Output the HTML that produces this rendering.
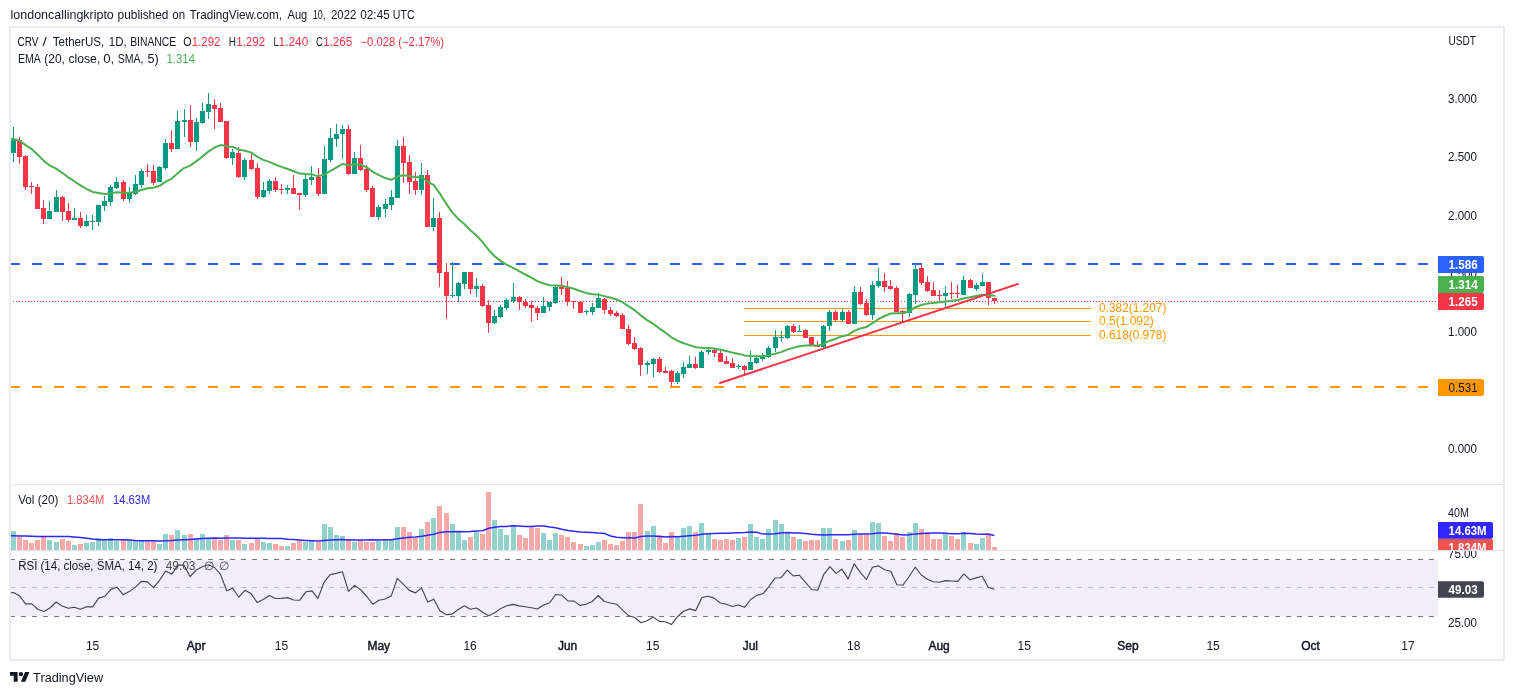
<!DOCTYPE html><html><head><meta charset="utf-8"><title>CRV / TetherUS chart</title><style>
html,body{margin:0;padding:0;background:#fff;}
body{width:1514px;height:695px;overflow:hidden;position:relative;font-family:"Liberation Sans", Arial, sans-serif;}
svg{position:absolute;left:0;top:0;will-change:transform;}
text{font-family:"Liberation Sans", Arial, sans-serif;}
</style></head><body>
<svg width="1514" height="695" viewBox="0 0 1514 695">
<defs><clipPath id="cmain"><rect x="11" y="28" width="1427" height="456"/></clipPath>
<clipPath id="cvol"><rect x="11" y="485" width="1491" height="65"/></clipPath>
<clipPath id="crsi"><rect x="11" y="551" width="1491" height="79"/></clipPath></defs>
<text x="10.6" y="18.9" font-size="12" fill="#131722" textLength="103.2" lengthAdjust="spacingAndGlyphs">londoncallingkripto</text>
<text x="117.6" y="18.9" font-size="12" fill="#131722" textLength="50.8" lengthAdjust="spacingAndGlyphs">published</text>
<text x="172.3" y="18.9" font-size="12" fill="#131722" textLength="12.8" lengthAdjust="spacingAndGlyphs">on</text>
<text x="189.6" y="18.9" font-size="12" fill="#131722" textLength="92.4" lengthAdjust="spacingAndGlyphs">TradingView.com,</text>
<text x="287.5" y="18.9" font-size="12" fill="#131722" textLength="19.7" lengthAdjust="spacingAndGlyphs">Aug</text>
<text x="312.8" y="18.9" font-size="12" fill="#131722" textLength="12.6" lengthAdjust="spacingAndGlyphs">10,</text>
<text x="331" y="18.9" font-size="12" fill="#131722" textLength="25.4" lengthAdjust="spacingAndGlyphs">2022</text>
<text x="360.3" y="18.9" font-size="12" fill="#131722" textLength="29.4" lengthAdjust="spacingAndGlyphs">02:45</text>
<text x="392.8" y="18.9" font-size="12" fill="#131722" textLength="21.8" lengthAdjust="spacingAndGlyphs">UTC</text>
<rect x="10" y="27" width="1494" height="633" fill="none" stroke="#e9ebf0" stroke-width="2"/>
<rect x="11" y="484" width="1492" height="1" fill="#e0e3eb"/>
<rect x="11" y="550" width="1492" height="1" fill="#e0e3eb"/>
<rect x="11" y="560" width="1427" height="56" fill="#f2eef9"/>
<g clip-path="url(#crsi)" shape-rendering="crispEdges">
<line x1="10" y1="559.5" x2="1438" y2="559.5" stroke="#787b86" stroke-width="1" stroke-dasharray="5,6"/>
<line x1="10" y1="587.5" x2="1438" y2="587.5" stroke="#b8bac2" stroke-width="1" stroke-dasharray="5,6"/>
<line x1="10" y1="616.5" x2="1438" y2="616.5" stroke="#787b86" stroke-width="1" stroke-dasharray="5,6"/>
</g>
<g clip-path="url(#cmain)">
<line x1="9.8" y1="263.5" x2="1438" y2="263.5" stroke="#2962ff" stroke-width="2" stroke-dasharray="10,12" shape-rendering="crispEdges"/>
<line x1="9.8" y1="386.8" x2="1438" y2="386.8" stroke="#ff9800" stroke-width="2" stroke-dasharray="10,12" shape-rendering="crispEdges"/>
<line x1="10" y1="301.5" x2="1438" y2="301.5" stroke="#f23645" stroke-width="1" stroke-dasharray="1,2" shape-rendering="crispEdges"/>
<line x1="744" y1="308.5" x2="1091" y2="308.5" stroke="#ff9800" stroke-width="1" shape-rendering="crispEdges"/>
<line x1="744" y1="321.5" x2="1091" y2="321.5" stroke="#ff9800" stroke-width="1" shape-rendering="crispEdges"/>
<line x1="744" y1="335.5" x2="1091" y2="335.5" stroke="#ff9800" stroke-width="1" shape-rendering="crispEdges"/>
<text x="1099" y="311.7" font-size="12" fill="#ff9800" textLength="67.4" lengthAdjust="spacingAndGlyphs">0.382(1.207)</text>
<text x="1099" y="324.9" font-size="12" fill="#ff9800">0.5(1.092)</text>
<text x="1099" y="338.6" font-size="12" fill="#ff9800" textLength="67.4" lengthAdjust="spacingAndGlyphs">0.618(0.978)</text>
<g shape-rendering="crispEdges">
<rect x="13" y="127" width="1" height="35" fill="#089981"/>
<rect x="11" y="140" width="5" height="13" fill="#089981"/>
<rect x="19" y="137" width="1" height="27" fill="#f23645"/>
<rect x="17" y="140" width="5" height="17" fill="#f23645"/>
<rect x="25" y="155" width="1" height="35" fill="#f23645"/>
<rect x="23" y="156" width="5" height="31" fill="#f23645"/>
<rect x="31" y="182" width="1" height="12" fill="#f23645"/>
<rect x="29" y="186" width="5" height="1" fill="#f23645"/>
<rect x="37" y="184" width="1" height="25" fill="#f23645"/>
<rect x="35" y="187" width="5" height="22" fill="#f23645"/>
<rect x="43" y="200" width="1" height="24" fill="#f23645"/>
<rect x="41" y="208" width="5" height="11" fill="#f23645"/>
<rect x="49" y="201" width="1" height="18" fill="#089981"/>
<rect x="47" y="211" width="5" height="8" fill="#089981"/>
<rect x="56" y="190" width="1" height="22" fill="#089981"/>
<rect x="54" y="197" width="5" height="15" fill="#089981"/>
<rect x="62" y="196" width="1" height="25" fill="#f23645"/>
<rect x="60" y="197" width="5" height="15" fill="#f23645"/>
<rect x="68" y="203" width="1" height="19" fill="#f23645"/>
<rect x="66" y="211" width="5" height="9" fill="#f23645"/>
<rect x="74" y="208" width="1" height="12" fill="#089981"/>
<rect x="72" y="218" width="5" height="2" fill="#089981"/>
<rect x="80" y="212" width="1" height="16" fill="#f23645"/>
<rect x="78" y="218" width="5" height="8" fill="#f23645"/>
<rect x="86" y="215" width="1" height="12" fill="#089981"/>
<rect x="84" y="221" width="5" height="5" fill="#089981"/>
<rect x="92" y="215" width="1" height="15" fill="#089981"/>
<rect x="90" y="221" width="5" height="1" fill="#089981"/>
<rect x="98" y="205" width="1" height="21" fill="#089981"/>
<rect x="96" y="205" width="5" height="17" fill="#089981"/>
<rect x="104" y="196" width="1" height="15" fill="#089981"/>
<rect x="102" y="201" width="5" height="5" fill="#089981"/>
<rect x="110" y="185" width="1" height="21" fill="#089981"/>
<rect x="108" y="187" width="5" height="15" fill="#089981"/>
<rect x="116" y="177" width="1" height="12" fill="#089981"/>
<rect x="114" y="182" width="5" height="6" fill="#089981"/>
<rect x="123" y="180" width="1" height="21" fill="#f23645"/>
<rect x="121" y="182" width="5" height="17" fill="#f23645"/>
<rect x="129" y="187" width="1" height="16" fill="#089981"/>
<rect x="127" y="193" width="5" height="6" fill="#089981"/>
<rect x="135" y="175" width="1" height="20" fill="#089981"/>
<rect x="133" y="184" width="5" height="10" fill="#089981"/>
<rect x="141" y="169" width="1" height="19" fill="#089981"/>
<rect x="139" y="171" width="5" height="14" fill="#089981"/>
<rect x="147" y="164" width="1" height="13" fill="#f23645"/>
<rect x="145" y="171" width="5" height="1" fill="#f23645"/>
<rect x="153" y="165" width="1" height="20" fill="#f23645"/>
<rect x="151" y="171" width="5" height="12" fill="#f23645"/>
<rect x="159" y="166" width="1" height="16" fill="#089981"/>
<rect x="157" y="167" width="5" height="15" fill="#089981"/>
<rect x="165" y="139" width="1" height="31" fill="#089981"/>
<rect x="163" y="143" width="5" height="25" fill="#089981"/>
<rect x="171" y="130" width="1" height="22" fill="#f23645"/>
<rect x="169" y="143" width="5" height="6" fill="#f23645"/>
<rect x="177" y="111" width="1" height="38" fill="#089981"/>
<rect x="175" y="121" width="5" height="28" fill="#089981"/>
<rect x="184" y="109" width="1" height="28" fill="#089981"/>
<rect x="182" y="120" width="5" height="2" fill="#089981"/>
<rect x="190" y="105" width="1" height="42" fill="#f23645"/>
<rect x="188" y="120" width="5" height="22" fill="#f23645"/>
<rect x="196" y="118" width="1" height="33" fill="#089981"/>
<rect x="194" y="122" width="5" height="20" fill="#089981"/>
<rect x="202" y="103" width="1" height="21" fill="#089981"/>
<rect x="200" y="111" width="5" height="12" fill="#089981"/>
<rect x="208" y="93" width="1" height="26" fill="#089981"/>
<rect x="206" y="104" width="5" height="8" fill="#089981"/>
<rect x="214" y="99" width="1" height="30" fill="#f23645"/>
<rect x="212" y="105" width="5" height="4" fill="#f23645"/>
<rect x="220" y="103" width="1" height="19" fill="#f23645"/>
<rect x="218" y="108" width="5" height="14" fill="#f23645"/>
<rect x="226" y="121" width="1" height="38" fill="#f23645"/>
<rect x="224" y="121" width="5" height="37" fill="#f23645"/>
<rect x="232" y="149" width="1" height="16" fill="#089981"/>
<rect x="230" y="152" width="5" height="6" fill="#089981"/>
<rect x="238" y="147" width="1" height="31" fill="#f23645"/>
<rect x="236" y="153" width="5" height="24" fill="#f23645"/>
<rect x="244" y="158" width="1" height="22" fill="#089981"/>
<rect x="242" y="160" width="5" height="17" fill="#089981"/>
<rect x="251" y="154" width="1" height="16" fill="#f23645"/>
<rect x="249" y="160" width="5" height="9" fill="#f23645"/>
<rect x="257" y="163" width="1" height="36" fill="#f23645"/>
<rect x="255" y="168" width="5" height="29" fill="#f23645"/>
<rect x="263" y="182" width="1" height="16" fill="#089981"/>
<rect x="261" y="190" width="5" height="7" fill="#089981"/>
<rect x="269" y="179" width="1" height="15" fill="#089981"/>
<rect x="267" y="181" width="5" height="10" fill="#089981"/>
<rect x="275" y="177" width="1" height="15" fill="#f23645"/>
<rect x="273" y="181" width="5" height="9" fill="#f23645"/>
<rect x="281" y="184" width="1" height="10" fill="#f23645"/>
<rect x="279" y="189" width="5" height="1" fill="#f23645"/>
<rect x="287" y="185" width="1" height="9" fill="#089981"/>
<rect x="285" y="188" width="5" height="2" fill="#089981"/>
<rect x="293" y="175" width="1" height="19" fill="#f23645"/>
<rect x="291" y="188" width="5" height="6" fill="#f23645"/>
<rect x="299" y="193" width="1" height="17" fill="#f23645"/>
<rect x="297" y="193" width="5" height="2" fill="#f23645"/>
<rect x="305" y="175" width="1" height="22" fill="#089981"/>
<rect x="303" y="179" width="5" height="16" fill="#089981"/>
<rect x="311" y="166" width="1" height="19" fill="#089981"/>
<rect x="309" y="177" width="5" height="3" fill="#089981"/>
<rect x="318" y="168" width="1" height="28" fill="#f23645"/>
<rect x="316" y="177" width="5" height="17" fill="#f23645"/>
<rect x="324" y="146" width="1" height="48" fill="#089981"/>
<rect x="322" y="159" width="5" height="35" fill="#089981"/>
<rect x="330" y="128" width="1" height="34" fill="#089981"/>
<rect x="328" y="138" width="5" height="22" fill="#089981"/>
<rect x="336" y="124" width="1" height="23" fill="#089981"/>
<rect x="334" y="134" width="5" height="5" fill="#089981"/>
<rect x="342" y="125" width="1" height="34" fill="#089981"/>
<rect x="340" y="129" width="5" height="5" fill="#089981"/>
<rect x="348" y="125" width="1" height="50" fill="#f23645"/>
<rect x="346" y="129" width="5" height="45" fill="#f23645"/>
<rect x="354" y="152" width="1" height="22" fill="#089981"/>
<rect x="352" y="158" width="5" height="16" fill="#089981"/>
<rect x="360" y="145" width="1" height="26" fill="#f23645"/>
<rect x="358" y="158" width="5" height="12" fill="#f23645"/>
<rect x="366" y="165" width="1" height="27" fill="#f23645"/>
<rect x="364" y="169" width="5" height="21" fill="#f23645"/>
<rect x="372" y="186" width="1" height="31" fill="#f23645"/>
<rect x="370" y="188" width="5" height="29" fill="#f23645"/>
<rect x="378" y="205" width="1" height="15" fill="#089981"/>
<rect x="376" y="207" width="5" height="10" fill="#089981"/>
<rect x="385" y="199" width="1" height="18" fill="#089981"/>
<rect x="383" y="204" width="5" height="5" fill="#089981"/>
<rect x="391" y="190" width="1" height="20" fill="#089981"/>
<rect x="389" y="197" width="5" height="8" fill="#089981"/>
<rect x="397" y="140" width="1" height="58" fill="#089981"/>
<rect x="395" y="146" width="5" height="52" fill="#089981"/>
<rect x="403" y="137" width="1" height="46" fill="#f23645"/>
<rect x="401" y="146" width="5" height="17" fill="#f23645"/>
<rect x="409" y="155" width="1" height="39" fill="#f23645"/>
<rect x="407" y="162" width="5" height="20" fill="#f23645"/>
<rect x="415" y="172" width="1" height="23" fill="#f23645"/>
<rect x="413" y="181" width="5" height="9" fill="#f23645"/>
<rect x="421" y="163" width="1" height="32" fill="#089981"/>
<rect x="419" y="175" width="5" height="15" fill="#089981"/>
<rect x="427" y="170" width="1" height="57" fill="#f23645"/>
<rect x="425" y="175" width="5" height="52" fill="#f23645"/>
<rect x="433" y="198" width="1" height="33" fill="#089981"/>
<rect x="431" y="218" width="5" height="9" fill="#089981"/>
<rect x="439" y="212" width="1" height="75" fill="#f23645"/>
<rect x="437" y="218" width="5" height="55" fill="#f23645"/>
<rect x="446" y="263" width="1" height="56" fill="#f23645"/>
<rect x="444" y="272" width="5" height="24" fill="#f23645"/>
<rect x="452" y="262" width="1" height="36" fill="#089981"/>
<rect x="450" y="295" width="5" height="1" fill="#089981"/>
<rect x="458" y="282" width="1" height="20" fill="#089981"/>
<rect x="456" y="283" width="5" height="13" fill="#089981"/>
<rect x="464" y="272" width="1" height="17" fill="#089981"/>
<rect x="462" y="272" width="5" height="12" fill="#089981"/>
<rect x="470" y="272" width="1" height="22" fill="#f23645"/>
<rect x="468" y="272" width="5" height="17" fill="#f23645"/>
<rect x="476" y="278" width="1" height="19" fill="#089981"/>
<rect x="474" y="286" width="5" height="3" fill="#089981"/>
<rect x="482" y="284" width="1" height="23" fill="#f23645"/>
<rect x="480" y="286" width="5" height="20" fill="#f23645"/>
<rect x="488" y="300" width="1" height="33" fill="#f23645"/>
<rect x="486" y="305" width="5" height="18" fill="#f23645"/>
<rect x="494" y="310" width="1" height="14" fill="#089981"/>
<rect x="492" y="316" width="5" height="7" fill="#089981"/>
<rect x="500" y="305" width="1" height="13" fill="#089981"/>
<rect x="498" y="307" width="5" height="10" fill="#089981"/>
<rect x="506" y="298" width="1" height="12" fill="#089981"/>
<rect x="504" y="300" width="5" height="8" fill="#089981"/>
<rect x="513" y="283" width="1" height="20" fill="#089981"/>
<rect x="511" y="297" width="5" height="4" fill="#089981"/>
<rect x="519" y="296" width="1" height="14" fill="#f23645"/>
<rect x="517" y="297" width="5" height="5" fill="#f23645"/>
<rect x="525" y="299" width="1" height="9" fill="#f23645"/>
<rect x="523" y="302" width="5" height="4" fill="#f23645"/>
<rect x="531" y="301" width="1" height="21" fill="#f23645"/>
<rect x="529" y="305" width="5" height="3" fill="#f23645"/>
<rect x="537" y="306" width="1" height="14" fill="#f23645"/>
<rect x="535" y="308" width="5" height="5" fill="#f23645"/>
<rect x="543" y="297" width="1" height="16" fill="#089981"/>
<rect x="541" y="306" width="5" height="7" fill="#089981"/>
<rect x="549" y="302" width="1" height="9" fill="#089981"/>
<rect x="547" y="302" width="5" height="5" fill="#089981"/>
<rect x="555" y="285" width="1" height="19" fill="#089981"/>
<rect x="553" y="287" width="5" height="16" fill="#089981"/>
<rect x="561" y="277" width="1" height="18" fill="#f23645"/>
<rect x="559" y="287" width="5" height="2" fill="#f23645"/>
<rect x="567" y="281" width="1" height="25" fill="#f23645"/>
<rect x="565" y="288" width="5" height="14" fill="#f23645"/>
<rect x="573" y="301" width="1" height="8" fill="#f23645"/>
<rect x="571" y="301" width="5" height="1" fill="#f23645"/>
<rect x="580" y="302" width="1" height="11" fill="#f23645"/>
<rect x="578" y="302" width="5" height="11" fill="#f23645"/>
<rect x="586" y="310" width="1" height="5" fill="#089981"/>
<rect x="584" y="311" width="5" height="1" fill="#089981"/>
<rect x="592" y="303" width="1" height="12" fill="#089981"/>
<rect x="590" y="307" width="5" height="5" fill="#089981"/>
<rect x="598" y="293" width="1" height="15" fill="#089981"/>
<rect x="596" y="298" width="5" height="10" fill="#089981"/>
<rect x="604" y="298" width="1" height="16" fill="#f23645"/>
<rect x="602" y="299" width="5" height="11" fill="#f23645"/>
<rect x="610" y="307" width="1" height="9" fill="#f23645"/>
<rect x="608" y="310" width="5" height="4" fill="#f23645"/>
<rect x="616" y="311" width="1" height="6" fill="#f23645"/>
<rect x="614" y="313" width="5" height="3" fill="#f23645"/>
<rect x="622" y="313" width="1" height="16" fill="#f23645"/>
<rect x="620" y="315" width="5" height="14" fill="#f23645"/>
<rect x="628" y="325" width="1" height="20" fill="#f23645"/>
<rect x="626" y="329" width="5" height="15" fill="#f23645"/>
<rect x="634" y="337" width="1" height="13" fill="#f23645"/>
<rect x="632" y="343" width="5" height="6" fill="#f23645"/>
<rect x="640" y="347" width="1" height="29" fill="#f23645"/>
<rect x="638" y="348" width="5" height="17" fill="#f23645"/>
<rect x="647" y="361" width="1" height="13" fill="#089981"/>
<rect x="645" y="363" width="5" height="2" fill="#089981"/>
<rect x="653" y="358" width="1" height="19" fill="#089981"/>
<rect x="651" y="359" width="5" height="5" fill="#089981"/>
<rect x="659" y="357" width="1" height="16" fill="#f23645"/>
<rect x="657" y="359" width="5" height="13" fill="#f23645"/>
<rect x="665" y="367" width="1" height="6" fill="#f23645"/>
<rect x="663" y="371" width="5" height="2" fill="#f23645"/>
<rect x="671" y="370" width="1" height="16" fill="#f23645"/>
<rect x="669" y="371" width="5" height="11" fill="#f23645"/>
<rect x="677" y="371" width="1" height="13" fill="#089981"/>
<rect x="675" y="373" width="5" height="9" fill="#089981"/>
<rect x="683" y="362" width="1" height="16" fill="#089981"/>
<rect x="681" y="367" width="5" height="7" fill="#089981"/>
<rect x="689" y="356" width="1" height="12" fill="#089981"/>
<rect x="687" y="364" width="5" height="4" fill="#089981"/>
<rect x="695" y="357" width="1" height="12" fill="#f23645"/>
<rect x="693" y="364" width="5" height="4" fill="#f23645"/>
<rect x="701" y="351" width="1" height="17" fill="#089981"/>
<rect x="699" y="352" width="5" height="16" fill="#089981"/>
<rect x="708" y="347" width="1" height="8" fill="#089981"/>
<rect x="706" y="350" width="5" height="2" fill="#089981"/>
<rect x="714" y="349" width="1" height="8" fill="#f23645"/>
<rect x="712" y="350" width="5" height="3" fill="#f23645"/>
<rect x="720" y="349" width="1" height="13" fill="#f23645"/>
<rect x="718" y="353" width="5" height="9" fill="#f23645"/>
<rect x="726" y="356" width="1" height="8" fill="#f23645"/>
<rect x="724" y="361" width="5" height="3" fill="#f23645"/>
<rect x="732" y="358" width="1" height="10" fill="#f23645"/>
<rect x="730" y="363" width="5" height="5" fill="#f23645"/>
<rect x="738" y="364" width="1" height="5" fill="#089981"/>
<rect x="736" y="366" width="5" height="1" fill="#089981"/>
<rect x="744" y="365" width="1" height="9" fill="#f23645"/>
<rect x="742" y="366" width="5" height="4" fill="#f23645"/>
<rect x="750" y="351" width="1" height="19" fill="#089981"/>
<rect x="748" y="362" width="5" height="8" fill="#089981"/>
<rect x="756" y="355" width="1" height="9" fill="#089981"/>
<rect x="754" y="358" width="5" height="5" fill="#089981"/>
<rect x="762" y="353" width="1" height="8" fill="#089981"/>
<rect x="760" y="356" width="5" height="3" fill="#089981"/>
<rect x="768" y="346" width="1" height="12" fill="#089981"/>
<rect x="766" y="348" width="5" height="9" fill="#089981"/>
<rect x="775" y="330" width="1" height="22" fill="#089981"/>
<rect x="773" y="337" width="5" height="11" fill="#089981"/>
<rect x="781" y="331" width="1" height="11" fill="#089981"/>
<rect x="779" y="337" width="5" height="1" fill="#089981"/>
<rect x="787" y="325" width="1" height="14" fill="#089981"/>
<rect x="785" y="326" width="5" height="12" fill="#089981"/>
<rect x="793" y="324" width="1" height="9" fill="#f23645"/>
<rect x="791" y="326" width="5" height="6" fill="#f23645"/>
<rect x="799" y="325" width="1" height="7" fill="#089981"/>
<rect x="797" y="331" width="5" height="1" fill="#089981"/>
<rect x="805" y="329" width="1" height="9" fill="#f23645"/>
<rect x="803" y="330" width="5" height="8" fill="#f23645"/>
<rect x="811" y="337" width="1" height="9" fill="#f23645"/>
<rect x="809" y="337" width="5" height="9" fill="#f23645"/>
<rect x="817" y="341" width="1" height="6" fill="#f23645"/>
<rect x="815" y="345" width="5" height="2" fill="#f23645"/>
<rect x="823" y="325" width="1" height="23" fill="#089981"/>
<rect x="821" y="326" width="5" height="21" fill="#089981"/>
<rect x="829" y="310" width="1" height="21" fill="#089981"/>
<rect x="827" y="312" width="5" height="14" fill="#089981"/>
<rect x="835" y="310" width="1" height="11" fill="#f23645"/>
<rect x="833" y="312" width="5" height="8" fill="#f23645"/>
<rect x="842" y="309" width="1" height="13" fill="#089981"/>
<rect x="840" y="312" width="5" height="8" fill="#089981"/>
<rect x="848" y="310" width="1" height="14" fill="#f23645"/>
<rect x="846" y="312" width="5" height="12" fill="#f23645"/>
<rect x="854" y="286" width="1" height="38" fill="#089981"/>
<rect x="852" y="292" width="5" height="32" fill="#089981"/>
<rect x="860" y="287" width="1" height="18" fill="#f23645"/>
<rect x="858" y="292" width="5" height="12" fill="#f23645"/>
<rect x="866" y="299" width="1" height="17" fill="#f23645"/>
<rect x="864" y="303" width="5" height="12" fill="#f23645"/>
<rect x="872" y="281" width="1" height="39" fill="#089981"/>
<rect x="870" y="285" width="5" height="30" fill="#089981"/>
<rect x="878" y="268" width="1" height="20" fill="#089981"/>
<rect x="876" y="281" width="5" height="5" fill="#089981"/>
<rect x="884" y="273" width="1" height="19" fill="#f23645"/>
<rect x="882" y="281" width="5" height="6" fill="#f23645"/>
<rect x="890" y="280" width="1" height="10" fill="#f23645"/>
<rect x="888" y="286" width="5" height="3" fill="#f23645"/>
<rect x="896" y="286" width="1" height="26" fill="#f23645"/>
<rect x="894" y="288" width="5" height="24" fill="#f23645"/>
<rect x="902" y="310" width="1" height="12" fill="#f23645"/>
<rect x="900" y="311" width="5" height="1" fill="#f23645"/>
<rect x="909" y="293" width="1" height="24" fill="#089981"/>
<rect x="907" y="294" width="5" height="19" fill="#089981"/>
<rect x="915" y="264" width="1" height="40" fill="#089981"/>
<rect x="913" y="269" width="5" height="26" fill="#089981"/>
<rect x="921" y="264" width="1" height="21" fill="#f23645"/>
<rect x="919" y="268" width="5" height="15" fill="#f23645"/>
<rect x="927" y="276" width="1" height="16" fill="#f23645"/>
<rect x="925" y="282" width="5" height="9" fill="#f23645"/>
<rect x="933" y="282" width="1" height="14" fill="#f23645"/>
<rect x="931" y="290" width="5" height="6" fill="#f23645"/>
<rect x="939" y="290" width="1" height="11" fill="#f23645"/>
<rect x="937" y="295" width="5" height="1" fill="#f23645"/>
<rect x="945" y="286" width="1" height="21" fill="#089981"/>
<rect x="943" y="293" width="5" height="3" fill="#089981"/>
<rect x="951" y="282" width="1" height="17" fill="#f23645"/>
<rect x="949" y="293" width="5" height="1" fill="#f23645"/>
<rect x="957" y="285" width="1" height="13" fill="#f23645"/>
<rect x="955" y="293" width="5" height="1" fill="#f23645"/>
<rect x="963" y="276" width="1" height="19" fill="#089981"/>
<rect x="961" y="280" width="5" height="15" fill="#089981"/>
<rect x="970" y="279" width="1" height="9" fill="#f23645"/>
<rect x="968" y="280" width="5" height="8" fill="#f23645"/>
<rect x="976" y="283" width="1" height="8" fill="#089981"/>
<rect x="974" y="285" width="5" height="4" fill="#089981"/>
<rect x="982" y="274" width="1" height="12" fill="#089981"/>
<rect x="980" y="282" width="5" height="4" fill="#089981"/>
<rect x="988" y="282" width="1" height="23" fill="#f23645"/>
<rect x="986" y="282" width="5" height="16" fill="#f23645"/>
<rect x="994" y="298" width="1" height="6" fill="#f23645"/>
<rect x="992" y="298" width="5" height="3" fill="#f23645"/>
</g>
<polyline points="10,138.6 13.4,139.0 19.5,140.7 25.6,145.1 31.7,149.1 37.8,154.8 43.9,160.9 50.0,165.7 56.1,168.7 62.1,172.8 68.2,177.3 74.3,181.2 80.4,185.4 86.5,188.8 92.6,191.9 98.7,193.1 104.8,193.9 110.9,193.2 117.0,192.2 123.1,192.8 129.2,192.8 135.3,192.0 141.4,190.0 147.4,188.3 153.5,187.8 159.6,185.8 165.7,181.7 171.8,178.6 177.9,173.1 184.0,168.1 190.1,165.6 196.2,161.4 202.3,156.6 208.4,151.6 214.5,147.5 220.6,145.1 226.7,146.3 232.7,146.9 238.8,149.7 244.9,150.7 251.0,152.4 257.1,156.7 263.2,159.9 269.3,161.9 275.4,164.6 281.5,166.9 287.6,169.0 293.7,171.3 299.8,173.6 305.9,174.1 312.0,174.4 318.0,176.3 324.1,174.6 330.2,171.1 336.3,167.6 342.4,164.0 348.5,164.9 354.6,164.3 360.7,164.8 366.8,167.2 372.9,171.9 379.0,175.2 385.1,178.0 391.2,179.8 397.3,176.6 403.4,175.3 409.4,175.9 415.5,177.2 421.6,177.0 427.7,181.7 433.8,185.2 439.9,193.6 446.0,203.4 452.1,212.1 458.2,218.9 464.3,224.0 470.4,230.2 476.5,235.5 482.6,242.2 488.7,250.0 494.7,256.3 500.8,261.1 506.9,264.8 513.0,267.9 519.1,271.2 525.2,274.5 531.3,277.7 537.4,281.1 543.5,283.5 549.6,285.2 555.7,285.4 561.8,285.7 567.9,287.2 574.0,288.7 580.0,291.0 586.1,292.9 592.2,294.2 598.3,294.6 604.4,296.1 610.5,297.8 616.6,299.5 622.7,302.4 628.8,306.3 634.9,310.4 641.0,315.6 647.1,320.1 653.2,323.8 659.3,328.4 665.4,332.6 671.4,337.3 677.5,340.7 683.6,343.2 689.7,345.1 695.8,347.3 701.9,347.7 708.0,347.9 714.1,348.4 720.2,349.7 726.3,351.0 732.4,352.6 738.5,353.9 744.6,355.4 750.7,356.0 756.7,356.2 762.8,356.2 768.9,355.4 775.0,353.7 781.1,352.1 787.2,349.6 793.3,347.9 799.4,346.3 805.5,345.5 811.6,345.5 817.7,345.6 823.8,343.7 829.9,340.7 836.0,338.7 842.0,336.2 848.1,335.0 854.2,330.9 860.3,328.4 866.4,327.1 872.5,323.1 878.6,319.0 884.7,316.0 890.8,313.4 896.9,313.3 903.0,313.2 909.1,311.3 915.2,307.3 921.3,305.0 927.4,303.6 933.4,302.9 939.5,302.3 945.6,301.4 951.7,300.7 957.8,300.1 963.9,298.2 970.0,297.3 976.1,296.1 982.2,294.7 988.3,295.1 994.4,295.7" fill="none" stroke="#4caf50" stroke-width="2" stroke-linejoin="round" stroke-linecap="round"/>
<line x1="720" y1="383" x2="1018" y2="284" stroke="#f23645" stroke-width="2" stroke-linecap="round"/>
</g>
<g clip-path="url(#cvol)"><g shape-rendering="crispEdges">
<rect x="11" y="531" width="5" height="19" fill="#92d2cc"/>
<rect x="17" y="537" width="5" height="13" fill="#f7a9a7"/>
<rect x="23" y="540" width="5" height="10" fill="#f7a9a7"/>
<rect x="29" y="543" width="5" height="7" fill="#f7a9a7"/>
<rect x="35" y="540" width="5" height="10" fill="#f7a9a7"/>
<rect x="41" y="537" width="5" height="13" fill="#f7a9a7"/>
<rect x="47" y="540" width="5" height="10" fill="#92d2cc"/>
<rect x="54" y="542" width="5" height="8" fill="#92d2cc"/>
<rect x="60" y="539" width="5" height="11" fill="#f7a9a7"/>
<rect x="66" y="541" width="5" height="9" fill="#f7a9a7"/>
<rect x="72" y="545" width="5" height="5" fill="#92d2cc"/>
<rect x="78" y="544" width="5" height="6" fill="#f7a9a7"/>
<rect x="84" y="543" width="5" height="7" fill="#92d2cc"/>
<rect x="90" y="542" width="5" height="8" fill="#92d2cc"/>
<rect x="96" y="538" width="5" height="12" fill="#92d2cc"/>
<rect x="102" y="540" width="5" height="10" fill="#92d2cc"/>
<rect x="108" y="538" width="5" height="12" fill="#92d2cc"/>
<rect x="114" y="541" width="5" height="9" fill="#92d2cc"/>
<rect x="121" y="540" width="5" height="10" fill="#f7a9a7"/>
<rect x="127" y="540" width="5" height="10" fill="#92d2cc"/>
<rect x="133" y="541" width="5" height="9" fill="#92d2cc"/>
<rect x="139" y="541" width="5" height="9" fill="#92d2cc"/>
<rect x="145" y="541" width="5" height="9" fill="#f7a9a7"/>
<rect x="151" y="541" width="5" height="9" fill="#f7a9a7"/>
<rect x="157" y="544" width="5" height="6" fill="#92d2cc"/>
<rect x="163" y="534" width="5" height="16" fill="#92d2cc"/>
<rect x="169" y="535" width="5" height="15" fill="#f7a9a7"/>
<rect x="175" y="530" width="5" height="20" fill="#92d2cc"/>
<rect x="182" y="535" width="5" height="15" fill="#92d2cc"/>
<rect x="188" y="534" width="5" height="16" fill="#f7a9a7"/>
<rect x="194" y="538" width="5" height="12" fill="#92d2cc"/>
<rect x="200" y="534" width="5" height="16" fill="#92d2cc"/>
<rect x="206" y="538" width="5" height="12" fill="#92d2cc"/>
<rect x="212" y="538" width="5" height="12" fill="#f7a9a7"/>
<rect x="218" y="540" width="5" height="10" fill="#f7a9a7"/>
<rect x="224" y="535" width="5" height="15" fill="#f7a9a7"/>
<rect x="230" y="540" width="5" height="10" fill="#92d2cc"/>
<rect x="236" y="540" width="5" height="10" fill="#f7a9a7"/>
<rect x="242" y="544" width="5" height="6" fill="#92d2cc"/>
<rect x="249" y="543" width="5" height="7" fill="#f7a9a7"/>
<rect x="255" y="539" width="5" height="11" fill="#f7a9a7"/>
<rect x="261" y="542" width="5" height="8" fill="#92d2cc"/>
<rect x="267" y="543" width="5" height="7" fill="#92d2cc"/>
<rect x="273" y="544" width="5" height="6" fill="#f7a9a7"/>
<rect x="279" y="546" width="5" height="4" fill="#f7a9a7"/>
<rect x="285" y="546" width="5" height="4" fill="#92d2cc"/>
<rect x="291" y="543" width="5" height="7" fill="#f7a9a7"/>
<rect x="297" y="540" width="5" height="10" fill="#f7a9a7"/>
<rect x="303" y="542" width="5" height="8" fill="#92d2cc"/>
<rect x="309" y="541" width="5" height="9" fill="#92d2cc"/>
<rect x="316" y="542" width="5" height="8" fill="#f7a9a7"/>
<rect x="322" y="524" width="5" height="26" fill="#92d2cc"/>
<rect x="328" y="527" width="5" height="23" fill="#92d2cc"/>
<rect x="334" y="535" width="5" height="15" fill="#92d2cc"/>
<rect x="340" y="536" width="5" height="14" fill="#92d2cc"/>
<rect x="346" y="539" width="5" height="11" fill="#f7a9a7"/>
<rect x="352" y="542" width="5" height="8" fill="#92d2cc"/>
<rect x="358" y="540" width="5" height="10" fill="#f7a9a7"/>
<rect x="364" y="542" width="5" height="8" fill="#f7a9a7"/>
<rect x="370" y="542" width="5" height="8" fill="#f7a9a7"/>
<rect x="376" y="541" width="5" height="9" fill="#92d2cc"/>
<rect x="383" y="540" width="5" height="10" fill="#92d2cc"/>
<rect x="389" y="540" width="5" height="10" fill="#92d2cc"/>
<rect x="395" y="527" width="5" height="23" fill="#92d2cc"/>
<rect x="401" y="527" width="5" height="23" fill="#f7a9a7"/>
<rect x="407" y="532" width="5" height="18" fill="#f7a9a7"/>
<rect x="413" y="538" width="5" height="12" fill="#f7a9a7"/>
<rect x="419" y="529" width="5" height="21" fill="#92d2cc"/>
<rect x="425" y="522" width="5" height="28" fill="#f7a9a7"/>
<rect x="431" y="518" width="5" height="32" fill="#92d2cc"/>
<rect x="437" y="506" width="5" height="44" fill="#f7a9a7"/>
<rect x="444" y="513" width="5" height="37" fill="#f7a9a7"/>
<rect x="450" y="524" width="5" height="26" fill="#92d2cc"/>
<rect x="456" y="532" width="5" height="18" fill="#92d2cc"/>
<rect x="462" y="540" width="5" height="10" fill="#92d2cc"/>
<rect x="468" y="537" width="5" height="13" fill="#f7a9a7"/>
<rect x="474" y="532" width="5" height="18" fill="#92d2cc"/>
<rect x="480" y="534" width="5" height="16" fill="#f7a9a7"/>
<rect x="486" y="492" width="5" height="58" fill="#f7a9a7"/>
<rect x="492" y="520" width="5" height="30" fill="#92d2cc"/>
<rect x="498" y="529" width="5" height="21" fill="#92d2cc"/>
<rect x="504" y="535" width="5" height="15" fill="#92d2cc"/>
<rect x="511" y="526" width="5" height="24" fill="#92d2cc"/>
<rect x="517" y="535" width="5" height="15" fill="#f7a9a7"/>
<rect x="523" y="538" width="5" height="12" fill="#f7a9a7"/>
<rect x="529" y="527" width="5" height="23" fill="#f7a9a7"/>
<rect x="535" y="528" width="5" height="22" fill="#f7a9a7"/>
<rect x="541" y="533" width="5" height="17" fill="#92d2cc"/>
<rect x="547" y="540" width="5" height="10" fill="#92d2cc"/>
<rect x="553" y="533" width="5" height="17" fill="#92d2cc"/>
<rect x="559" y="535" width="5" height="15" fill="#f7a9a7"/>
<rect x="565" y="537" width="5" height="13" fill="#f7a9a7"/>
<rect x="571" y="542" width="5" height="8" fill="#f7a9a7"/>
<rect x="578" y="544" width="5" height="6" fill="#f7a9a7"/>
<rect x="584" y="546" width="5" height="4" fill="#92d2cc"/>
<rect x="590" y="545" width="5" height="5" fill="#92d2cc"/>
<rect x="596" y="542" width="5" height="8" fill="#92d2cc"/>
<rect x="602" y="540" width="5" height="10" fill="#f7a9a7"/>
<rect x="608" y="544" width="5" height="6" fill="#f7a9a7"/>
<rect x="614" y="545" width="5" height="5" fill="#f7a9a7"/>
<rect x="620" y="541" width="5" height="9" fill="#f7a9a7"/>
<rect x="626" y="532" width="5" height="18" fill="#f7a9a7"/>
<rect x="632" y="532" width="5" height="18" fill="#f7a9a7"/>
<rect x="638" y="504" width="5" height="46" fill="#f7a9a7"/>
<rect x="645" y="531" width="5" height="19" fill="#92d2cc"/>
<rect x="651" y="526" width="5" height="24" fill="#92d2cc"/>
<rect x="657" y="535" width="5" height="15" fill="#f7a9a7"/>
<rect x="663" y="543" width="5" height="7" fill="#f7a9a7"/>
<rect x="669" y="532" width="5" height="18" fill="#f7a9a7"/>
<rect x="675" y="537" width="5" height="13" fill="#92d2cc"/>
<rect x="681" y="528" width="5" height="22" fill="#92d2cc"/>
<rect x="687" y="526" width="5" height="24" fill="#92d2cc"/>
<rect x="693" y="532" width="5" height="18" fill="#f7a9a7"/>
<rect x="699" y="523" width="5" height="27" fill="#92d2cc"/>
<rect x="706" y="534" width="5" height="16" fill="#92d2cc"/>
<rect x="712" y="539" width="5" height="11" fill="#f7a9a7"/>
<rect x="718" y="540" width="5" height="10" fill="#f7a9a7"/>
<rect x="724" y="539" width="5" height="11" fill="#f7a9a7"/>
<rect x="730" y="540" width="5" height="10" fill="#f7a9a7"/>
<rect x="736" y="538" width="5" height="12" fill="#92d2cc"/>
<rect x="742" y="537" width="5" height="13" fill="#f7a9a7"/>
<rect x="748" y="524" width="5" height="26" fill="#92d2cc"/>
<rect x="754" y="537" width="5" height="13" fill="#92d2cc"/>
<rect x="760" y="539" width="5" height="11" fill="#92d2cc"/>
<rect x="766" y="529" width="5" height="21" fill="#92d2cc"/>
<rect x="773" y="520" width="5" height="30" fill="#92d2cc"/>
<rect x="779" y="524" width="5" height="26" fill="#92d2cc"/>
<rect x="785" y="533" width="5" height="17" fill="#92d2cc"/>
<rect x="791" y="537" width="5" height="13" fill="#f7a9a7"/>
<rect x="797" y="539" width="5" height="11" fill="#92d2cc"/>
<rect x="803" y="541" width="5" height="9" fill="#f7a9a7"/>
<rect x="809" y="540" width="5" height="10" fill="#f7a9a7"/>
<rect x="815" y="540" width="5" height="10" fill="#f7a9a7"/>
<rect x="821" y="528" width="5" height="22" fill="#92d2cc"/>
<rect x="827" y="528" width="5" height="22" fill="#92d2cc"/>
<rect x="833" y="539" width="5" height="11" fill="#f7a9a7"/>
<rect x="840" y="541" width="5" height="9" fill="#92d2cc"/>
<rect x="846" y="540" width="5" height="10" fill="#f7a9a7"/>
<rect x="852" y="530" width="5" height="20" fill="#92d2cc"/>
<rect x="858" y="534" width="5" height="16" fill="#f7a9a7"/>
<rect x="864" y="534" width="5" height="16" fill="#f7a9a7"/>
<rect x="870" y="522" width="5" height="28" fill="#92d2cc"/>
<rect x="876" y="523" width="5" height="27" fill="#92d2cc"/>
<rect x="882" y="536" width="5" height="14" fill="#f7a9a7"/>
<rect x="888" y="541" width="5" height="9" fill="#f7a9a7"/>
<rect x="894" y="533" width="5" height="17" fill="#f7a9a7"/>
<rect x="900" y="537" width="5" height="13" fill="#f7a9a7"/>
<rect x="907" y="532" width="5" height="18" fill="#92d2cc"/>
<rect x="913" y="523" width="5" height="27" fill="#92d2cc"/>
<rect x="919" y="529" width="5" height="21" fill="#f7a9a7"/>
<rect x="925" y="532" width="5" height="18" fill="#f7a9a7"/>
<rect x="931" y="539" width="5" height="11" fill="#f7a9a7"/>
<rect x="937" y="539" width="5" height="11" fill="#f7a9a7"/>
<rect x="943" y="533" width="5" height="17" fill="#92d2cc"/>
<rect x="949" y="536" width="5" height="14" fill="#f7a9a7"/>
<rect x="955" y="539" width="5" height="11" fill="#f7a9a7"/>
<rect x="961" y="532" width="5" height="18" fill="#92d2cc"/>
<rect x="968" y="543" width="5" height="7" fill="#f7a9a7"/>
<rect x="974" y="544" width="5" height="6" fill="#92d2cc"/>
<rect x="980" y="538" width="5" height="12" fill="#92d2cc"/>
<rect x="986" y="533" width="5" height="17" fill="#f7a9a7"/>
<rect x="992" y="547" width="5" height="3" fill="#f7a9a7"/>
</g>
<polyline points="10,535.7 13.4,535.8 19.5,535.9 25.6,536.1 31.7,536.2 37.8,536.4 43.9,536.5 50.0,536.5 56.1,536.5 62.1,536.5 68.2,536.5 74.3,537.0 80.4,537.5 86.5,538.3 92.6,539.1 98.7,539.7 104.8,539.7 110.9,539.7 117.0,539.7 123.1,539.8 129.2,540.0 135.3,540.5 141.4,540.8 147.4,540.8 153.5,540.7 159.6,540.9 165.7,540.8 171.8,540.5 177.9,539.9 184.0,539.7 190.1,539.4 196.2,539.0 202.3,538.5 208.4,538.3 214.5,538.1 220.6,538.2 226.7,537.9 232.7,538.0 238.8,538.0 244.9,538.2 251.0,538.3 257.1,538.2 263.2,538.3 269.3,538.4 275.4,538.5 281.5,538.6 287.6,539.2 293.7,539.6 299.8,540.1 305.9,540.5 312.0,540.8 318.0,541.0 324.1,540.5 330.2,540.0 336.3,539.8 342.4,539.6 348.5,539.9 354.6,540.0 360.7,540.0 366.8,539.9 372.9,539.8 379.0,539.9 385.1,539.8 391.2,539.7 397.3,538.8 403.4,537.9 409.4,537.2 415.5,536.9 421.6,536.3 427.7,535.3 433.8,534.2 439.9,532.4 446.0,531.8 452.1,531.7 458.2,531.5 464.3,531.7 470.4,531.6 476.5,531.1 482.6,530.8 488.7,528.3 494.7,527.2 500.8,526.6 506.9,526.4 513.0,525.7 519.1,526.1 525.2,526.6 531.3,526.4 537.4,525.9 543.5,526.1 549.6,527.0 555.7,527.7 561.8,529.2 567.9,530.4 574.0,531.3 580.0,531.9 586.1,532.2 592.2,532.6 598.3,533.1 604.4,533.4 610.5,536.0 616.6,537.2 622.7,537.8 628.8,537.7 634.9,538.0 641.0,536.4 647.1,536.1 653.2,536.0 659.3,536.4 665.4,536.9 671.4,536.5 677.5,536.7 683.6,536.3 689.7,535.8 695.8,535.3 701.9,534.2 708.0,533.7 714.1,533.4 720.2,533.3 726.3,533.2 732.4,533.0 738.5,532.7 744.6,532.5 750.7,532.1 756.7,532.3 762.8,534.1 768.9,534.0 775.0,533.7 781.1,533.1 787.2,532.6 793.3,532.9 799.4,533.0 805.5,533.6 811.6,534.3 817.7,534.7 823.8,535.0 829.9,534.7 836.0,534.7 842.0,534.7 848.1,534.8 854.2,534.3 860.3,534.1 866.4,533.9 872.5,533.8 878.6,533.1 884.7,533.0 890.8,533.6 896.9,534.2 903.0,534.9 909.1,534.8 915.2,534.1 921.3,533.6 927.4,533.2 933.4,533.1 939.5,533.1 945.6,533.3 951.7,533.7 957.8,533.7 963.9,533.3 970.0,533.4 976.1,534.1 982.2,534.3 988.3,534.3 994.4,535.5" fill="none" stroke="#3026ff" stroke-width="1.5" stroke-linejoin="round"/>
</g>
<g clip-path="url(#crsi)"><polyline points="10,592.8 13.4,592.6 19.5,595.8 25.6,603.9 31.7,603.9 37.8,609.3 43.9,611.5 50.0,608.0 56.1,602.0 62.1,606.0 68.2,608.2 74.3,607.2 80.4,609.3 86.5,606.8 92.6,606.8 98.7,598.1 104.8,596.3 110.9,589.4 117.0,587.2 123.1,594.7 129.2,591.6 135.3,587.4 141.4,581.4 147.4,581.9 153.5,587.7 159.6,580.3 165.7,571.0 171.8,574.3 177.9,565.1 184.0,565.0 190.1,576.7 196.2,570.0 202.3,566.8 208.4,564.8 214.5,567.5 220.6,574.6 226.7,590.8 232.7,588.2 238.8,597.2 244.9,590.3 251.0,593.6 257.1,602.4 263.2,599.5 269.3,595.6 275.4,598.5 281.5,598.4 287.6,597.6 293.7,600.0 299.8,600.2 305.9,591.8 312.0,590.9 318.0,598.4 324.1,582.1 330.2,574.6 336.3,573.4 342.4,571.7 348.5,591.3 354.6,585.4 360.7,589.7 366.8,596.5 372.9,604.2 379.0,600.2 385.1,599.0 391.2,596.1 397.3,578.4 403.4,584.3 409.4,590.4 415.5,592.9 421.6,587.9 427.7,602.1 433.8,599.2 439.9,610.7 446.0,614.6 452.1,614.1 458.2,609.5 464.3,605.8 470.4,609.3 476.5,608.0 482.6,612.3 488.7,615.7 494.7,612.7 500.8,608.6 506.9,605.8 513.0,604.4 519.1,605.9 525.2,606.8 531.3,607.7 537.4,609.0 543.5,605.1 549.6,602.8 555.7,594.5 561.8,595.2 567.9,600.9 574.0,601.1 580.0,605.4 586.1,604.3 592.2,601.5 598.3,595.5 604.4,601.5 610.5,603.0 616.6,604.2 622.7,610.2 628.8,615.8 634.9,617.5 641.0,622.7 647.1,620.8 653.2,617.0 659.3,621.4 665.4,621.7 671.4,624.6 677.5,616.7 683.6,611.3 689.7,608.9 695.8,610.6 701.9,597.5 708.0,596.2 714.1,598.1 720.2,603.0 726.3,604.2 732.4,606.5 738.5,605.0 744.6,607.3 750.7,599.5 756.7,595.4 762.8,593.8 768.9,586.6 775.0,578.0 781.1,577.7 787.2,570.1 793.3,575.9 799.4,575.3 805.5,582.3 811.6,589.5 817.7,590.3 823.8,574.3 829.9,566.6 836.0,573.4 842.0,569.2 848.1,578.9 854.2,563.8 860.3,572.4 866.4,579.4 872.5,567.3 878.6,565.9 884.7,569.7 890.8,571.2 896.9,584.8 903.0,585.0 909.1,576.5 915.2,567.2 921.3,575.0 927.4,579.2 933.4,581.8 939.5,582.2 945.6,580.6 951.7,581.0 957.8,581.4 963.9,573.9 970.0,579.8 976.1,577.9 982.2,576.3 988.3,587.5 994.4,589.3" fill="none" stroke="#43454f" stroke-width="1.15" stroke-linejoin="round"/></g>
<text x="17.6" y="46" font-size="12" fill="#131722" textLength="20.9" lengthAdjust="spacingAndGlyphs">CRV</text>
<text x="42.6" y="46" font-size="12" fill="#131722" textLength="4.3" lengthAdjust="spacingAndGlyphs">/</text>
<text x="52.7" y="46" font-size="12" fill="#131722" textLength="51.5" lengthAdjust="spacingAndGlyphs">TetherUS,</text>
<text x="108.8" y="46" font-size="12" fill="#131722" textLength="17.9" lengthAdjust="spacingAndGlyphs">1D,</text>
<text x="130.2" y="46" font-size="12" fill="#131722" textLength="45.9" lengthAdjust="spacingAndGlyphs">BINANCE</text>
<text x="183.3" y="46" font-size="12" fill="#131722" textLength="8.3" lengthAdjust="spacingAndGlyphs">O</text>
<text x="191.8" y="46" font-size="12" fill="#f23645" textLength="28.5" lengthAdjust="spacingAndGlyphs">1.292</text>
<text x="228.8" y="46" font-size="12" fill="#131722" textLength="7.2" lengthAdjust="spacingAndGlyphs">H</text>
<text x="236.2" y="46" font-size="12" fill="#f23645" textLength="29.0" lengthAdjust="spacingAndGlyphs">1.292</text>
<text x="273.6" y="46" font-size="12" fill="#131722" textLength="5.2" lengthAdjust="spacingAndGlyphs">L</text>
<text x="278.6" y="46" font-size="12" fill="#f23645" textLength="29.7" lengthAdjust="spacingAndGlyphs">1.240</text>
<text x="316.1" y="46" font-size="12" fill="#131722" textLength="6.8" lengthAdjust="spacingAndGlyphs">C</text>
<text x="323.2" y="46" font-size="12" fill="#f23645" textLength="29.0" lengthAdjust="spacingAndGlyphs">1.265</text>
<text x="360.5" y="46" font-size="12" fill="#f23645" textLength="83.6" lengthAdjust="spacingAndGlyphs">−0.028 (−2.17%)</text>
<text x="17.9" y="62.7" font-size="12" fill="#131722" textLength="22.9" lengthAdjust="spacingAndGlyphs">EMA</text>
<text x="44.3" y="62.7" font-size="12" fill="#131722" textLength="20.6" lengthAdjust="spacingAndGlyphs">(20,</text>
<text x="68.4" y="62.7" font-size="12" fill="#131722" textLength="31.9" lengthAdjust="spacingAndGlyphs">close,</text>
<text x="103.2" y="62.7" font-size="12" fill="#131722" textLength="11.1" lengthAdjust="spacingAndGlyphs">0,</text>
<text x="117.8" y="62.7" font-size="12" fill="#131722" textLength="25.7" lengthAdjust="spacingAndGlyphs">SMA,</text>
<text x="147.5" y="62.7" font-size="12" fill="#131722" textLength="11.2" lengthAdjust="spacingAndGlyphs">5)</text>
<text x="166.5" y="62.7" font-size="12" fill="#4caf50" textLength="28.5" lengthAdjust="spacingAndGlyphs">1.314</text>
<text x="18.2" y="504" font-size="12" fill="#131722" textLength="40.2" lengthAdjust="spacingAndGlyphs">Vol (20)</text>
<text x="67" y="504" font-size="12" fill="#ef5350" textLength="37.3" lengthAdjust="spacingAndGlyphs">1.834M</text>
<text x="113" y="504" font-size="12" fill="#3026ff" textLength="37.3" lengthAdjust="spacingAndGlyphs">14.63M</text>
<text x="18.2" y="569.9" font-size="12" fill="#131722" textLength="139.2" lengthAdjust="spacingAndGlyphs">RSI (14, close, SMA, 14, 2)</text>
<text x="165.7" y="569.9" font-size="12" fill="#4a4a4f" textLength="29.7" lengthAdjust="spacingAndGlyphs">49.03</text>
<text x="204" y="569.9" font-size="12" fill="#4a4a4f">∅</text>
<text x="219" y="569.9" font-size="12" fill="#4a4a4f">∅</text>
<text x="1448.4" y="44.8" font-size="12" fill="#131722" textLength="27.5" lengthAdjust="spacingAndGlyphs">USDT</text>
<text x="1448" y="103.2" font-size="12" fill="#131722" textLength="29" lengthAdjust="spacingAndGlyphs">3.000</text>
<text x="1448" y="161.4" font-size="12" fill="#131722" textLength="29" lengthAdjust="spacingAndGlyphs">2.500</text>
<text x="1448" y="219.7" font-size="12" fill="#131722" textLength="29" lengthAdjust="spacingAndGlyphs">2.000</text>
<text x="1448" y="278.0" font-size="12" fill="#131722" textLength="29" lengthAdjust="spacingAndGlyphs">1.500</text>
<text x="1448" y="336.2" font-size="12" fill="#131722" textLength="29" lengthAdjust="spacingAndGlyphs">1.000</text>
<text x="1448" y="452.8" font-size="12" fill="#131722" textLength="29" lengthAdjust="spacingAndGlyphs">0.000</text>
<path d="M1438,256 H1482 Q1484,256 1484,258 V271 Q1484,273 1482,273 H1438 Z" fill="#2962ff"/>
<text x="1448.6" y="268.8" font-size="12" fill="#fff" font-weight="bold" textLength="29" lengthAdjust="spacingAndGlyphs">1.586</text>
<path d="M1438,276 H1482 Q1484,276 1484,278 V291 Q1484,293 1482,293 H1438 Z" fill="#4caf50"/>
<text x="1448.6" y="288.8" font-size="12" fill="#fff" font-weight="bold" textLength="29" lengthAdjust="spacingAndGlyphs">1.314</text>
<path d="M1438,293 H1482 Q1484,293 1484,295 V308 Q1484,310 1482,310 H1438 Z" fill="#f23645"/>
<text x="1448.6" y="305.8" font-size="12" fill="#fff" font-weight="bold" textLength="29" lengthAdjust="spacingAndGlyphs">1.265</text>
<path d="M1438,379 H1482 Q1484,379 1484,381 V394 Q1484,396 1482,396 H1438 Z" fill="#ff9800"/>
<text x="1448.6" y="391.8" font-size="12" fill="#131722" font-weight="normal" textLength="29" lengthAdjust="spacingAndGlyphs">0.531</text>
<g clip-path="url(#cvol)">
<text x="1448" y="516.8" font-size="12" fill="#131722" textLength="21" lengthAdjust="spacingAndGlyphs">40M</text>
<path d="M1438,538.8 H1491 Q1493,538.8 1493,540.8 V553.8 Q1493,555.8 1491,555.8 H1438 Z" fill="#ef5350"/>
<text x="1448.6" y="551.6" font-size="12" fill="#fff" font-weight="bold" textLength="38" lengthAdjust="spacingAndGlyphs">1.834M</text>
<path d="M1438,522 H1491 Q1493,522 1493,524 V536.8 Q1493,538.8 1491,538.8 H1438 Z" fill="#3026ff"/>
<text x="1448.6" y="534.7" font-size="12" fill="#fff" font-weight="bold" textLength="38" lengthAdjust="spacingAndGlyphs">14.63M</text>
</g>
<g clip-path="url(#crsi)">
<text x="1448" y="557.6" font-size="12" fill="#131722" textLength="29" lengthAdjust="spacingAndGlyphs">75.00</text>
<text x="1448" y="626.8" font-size="12" fill="#131722" textLength="29" lengthAdjust="spacingAndGlyphs">25.00</text>
</g>
<path d="M1438,581.2 H1482 Q1484,581.2 1484,583.2 V595.8 Q1484,597.8 1482,597.8 H1438 Z" fill="#434651"/>
<text x="1448.6" y="593.8" font-size="12" fill="#fff" font-weight="bold" textLength="29" lengthAdjust="spacingAndGlyphs">49.03</text>
<text x="92.6" y="650" font-size="12" fill="#131722" text-anchor="middle">15</text>
<text x="196.1" y="650" font-size="12" fill="#131722" text-anchor="middle" stroke="#131722" stroke-width="0.45">Apr</text>
<text x="281.4" y="650" font-size="12" fill="#131722" text-anchor="middle">15</text>
<text x="378.8" y="650" font-size="12" fill="#131722" text-anchor="middle" stroke="#131722" stroke-width="0.45">May</text>
<text x="470.1" y="650" font-size="12" fill="#131722" text-anchor="middle">16</text>
<text x="567.6" y="650" font-size="12" fill="#131722" text-anchor="middle" stroke="#131722" stroke-width="0.45">Jun</text>
<text x="652.8" y="650" font-size="12" fill="#131722" text-anchor="middle">15</text>
<text x="750.3" y="650" font-size="12" fill="#131722" text-anchor="middle" stroke="#131722" stroke-width="0.45">Jul</text>
<text x="853.8" y="650" font-size="12" fill="#131722" text-anchor="middle">18</text>
<text x="939.1" y="650" font-size="12" fill="#131722" text-anchor="middle" stroke="#131722" stroke-width="0.45">Aug</text>
<text x="1024.3" y="650" font-size="12" fill="#131722" text-anchor="middle">15</text>
<text x="1127.9" y="650" font-size="12" fill="#131722" text-anchor="middle" stroke="#131722" stroke-width="0.45">Sep</text>
<text x="1213.1" y="650" font-size="12" fill="#131722" text-anchor="middle">15</text>
<text x="1310.6" y="650" font-size="12" fill="#131722" text-anchor="middle" stroke="#131722" stroke-width="0.45">Oct</text>
<text x="1408.0" y="650" font-size="12" fill="#131722" text-anchor="middle">17</text>
<g transform="translate(9.9,669.6999999999999) scale(0.55)" fill="#131722"><path d="M14 22H7V11H0V4h14v18zM28 22h-8l7.5-18h8L28 22z"/><circle cx="20" cy="8" r="4"/></g>
<text x="33.1" y="681.8" font-size="12.7" fill="#131722" textLength="70" lengthAdjust="spacingAndGlyphs">TradingView</text>
</svg></body></html>
